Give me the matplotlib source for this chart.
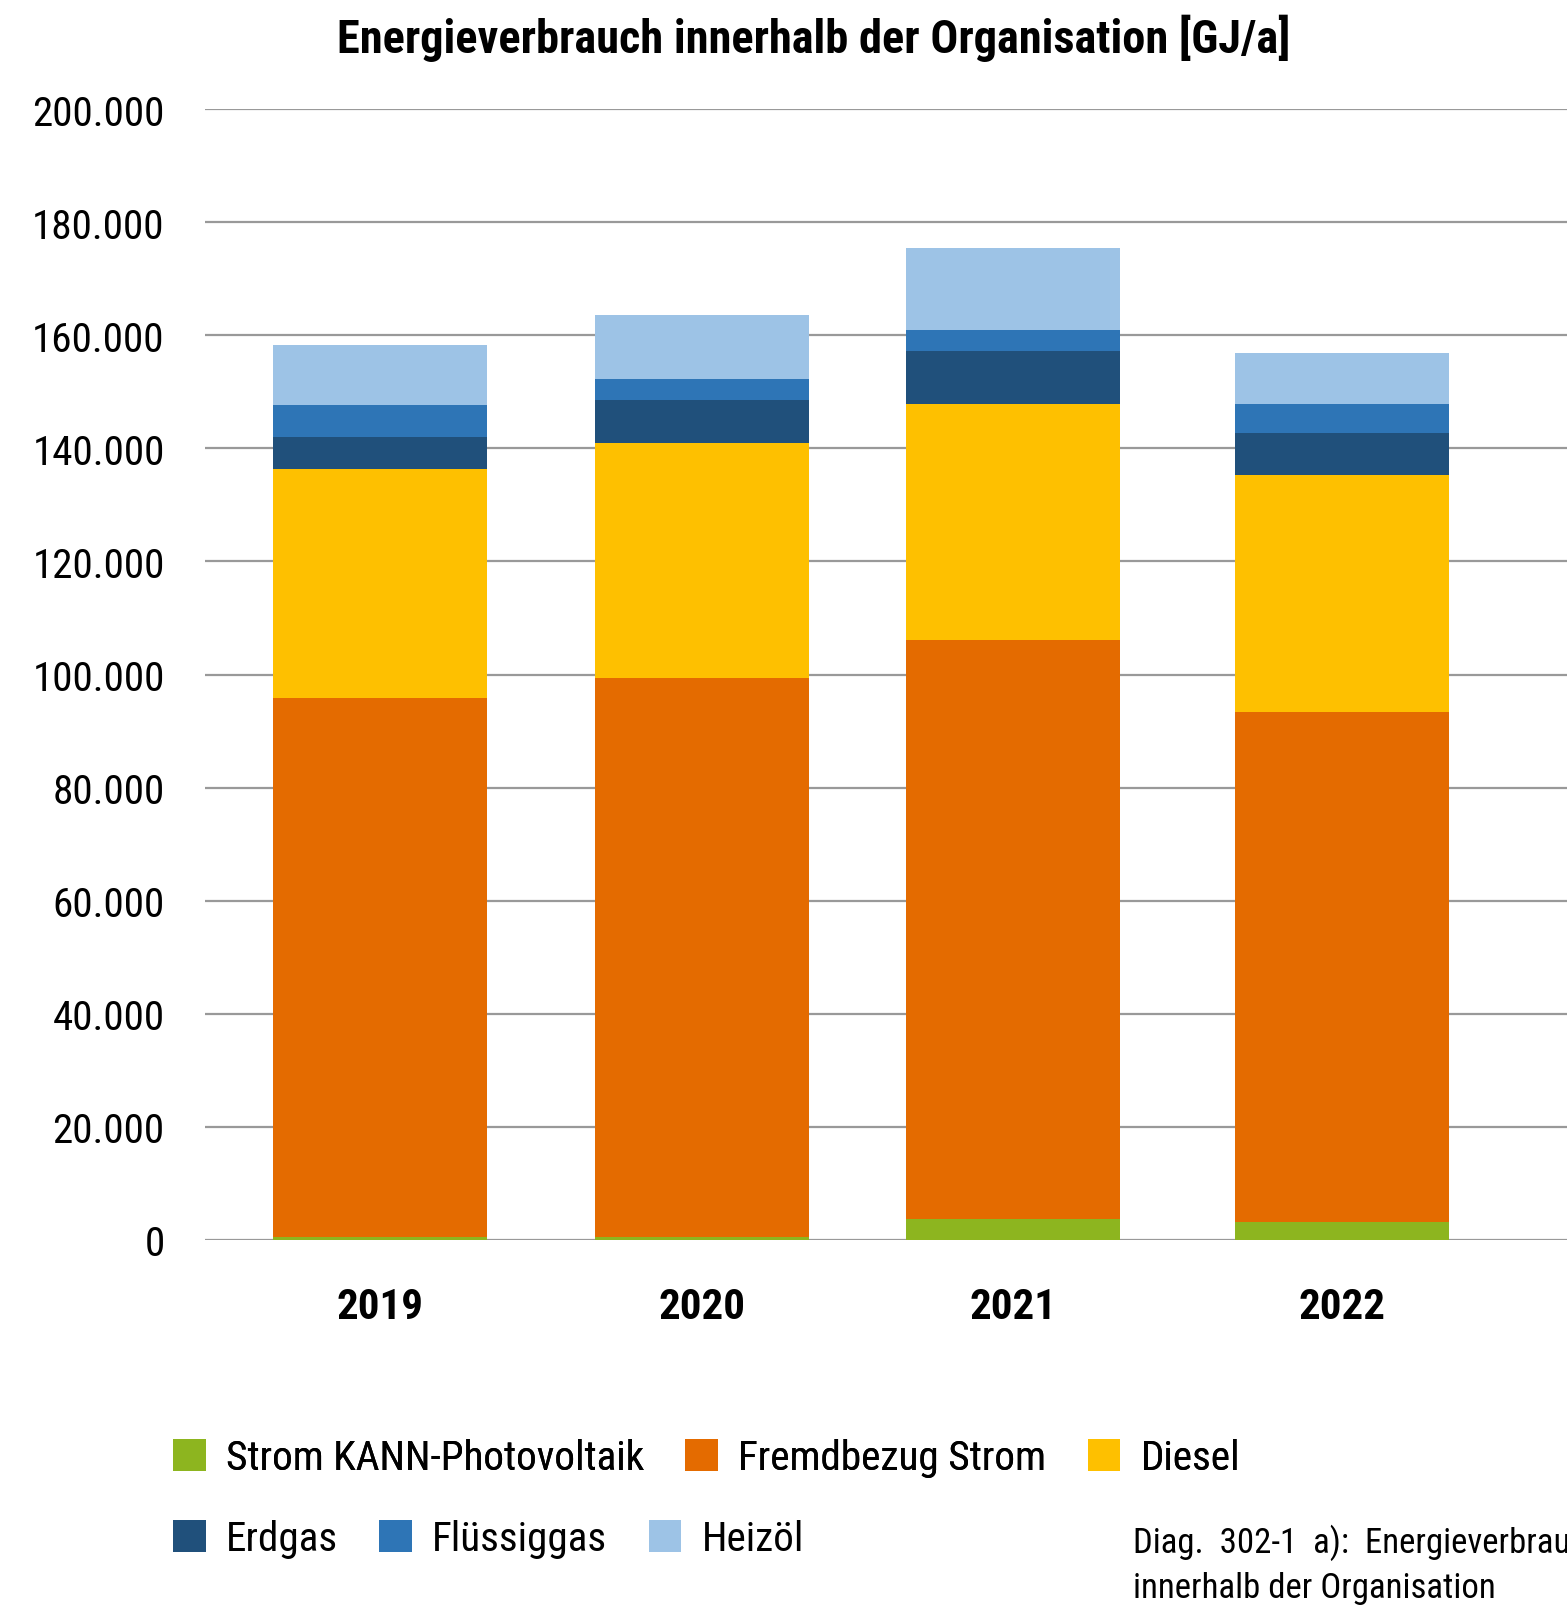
import numpy as np
import matplotlib
matplotlib.use("Agg")
import matplotlib.pyplot as plt
from matplotlib import font_manager
from matplotlib.ticker import FuncFormatter

# Energieverbrauch je Jahr und Energietraeger [GJ/a]
years = ["2019", "2020", "2021", "2022"]
pv_strom = [500, 500, 3700, 3200]
fremdbezug_strom = [95400, 98800, 102400, 90250]
diesel = [40400, 41600, 41800, 41800]
erdgas = [5700, 7600, 9350, 7450]
fluessiggas = [5650, 3700, 3700, 5150]
heizoel = [10650, 11350, 14550, 9050]

labels = ["Strom KANN-Photovoltaik", "Fremdbezug Strom", "Diesel",
          "Erdgas", "Flüssiggas", "Heizöl"]
colors = ["#8DB51F", "#E46B00", "#FEC000", "#20507B", "#2E75B6", "#9DC3E6"]
yticks = [0, 20000, 40000, 60000, 80000, 100000, 120000, 140000, 160000, 180000, 200000]

# pick a narrow sans if there is one
installed = {f.name for f in font_manager.fontManager.ttflist}
font = "DejaVu Sans"
for cand in ["Liberation Sans Narrow", "Roboto Condensed", "Open Sans Condensed"]:
    if cand in installed:
        font = cand
        break
plt.rcParams["font.family"] = [font, "DejaVu Sans"]

W, H = 1567, 1608
fig = plt.figure(figsize=(W / 100, H / 100), dpi=100)
ax = fig.add_axes([205 / W, (H - 1241) / H, (W - 205) / W, (1241 - 110) / H])

# bar slots (the third column sits a touch left in the layout)
x = np.array([0, 1.004, 1.974, 3.0])
series = [pv_strom, fremdbezug_strom, diesel, erdgas, fluessiggas, heizoel]
bottom = np.zeros(len(years))
bars = []
for vals, lab, col in zip(series, labels, colors):
    b = ax.bar(x, vals, width=0.667, bottom=bottom, color=col, label=lab, zorder=3)
    bars.append(b)
    bottom += np.array(vals)

ax.set_xlim(-0.5457, 3.701)
ax.set_ylim(0, 200000)
ax.set_yticks(yticks)
ax.yaxis.set_major_formatter(FuncFormatter(lambda v, p: f"{int(v):,}".replace(",", ".")))
ax.grid(axis="y", color="#999999", linewidth=1.6, zorder=0)
ax.set_axisbelow(True)
for s in ax.spines.values():
    s.set_visible(False)
ax.tick_params(axis="y", length=0, pad=29, labelsize=29.6)
ax.tick_params(axis="x", length=0, pad=33)
ax.set_xticks(x)
ax.set_xticklabels(years, fontsize=31, fontweight="bold")

fig.text(814 / W, 1 - 53 / H, "Energieverbrauch innerhalb der Organisation [GJ/a]",
         ha="center", va="baseline", fontsize=33.4, fontweight="bold")

# legend in two rows
leg_kw = dict(loc="center left", frameon=False, ncol=3, fontsize=29.6,
              borderpad=0, borderaxespad=0, handlelength=0.8, handleheight=0.8,
              handletextpad=0.49, columnspacing=1.0)
leg1 = fig.legend(handles=bars[:3], bbox_to_anchor=(173 / W, 1 - 1459 / H), **leg_kw)
fig.add_artist(leg1)
fig.legend(handles=bars[3:], bbox_to_anchor=(173 / W, 1 - 1540 / H), **leg_kw)

fig.text(1133 / W, 1 - 1553 / H, "Diag.  302-1  a):  Energieverbrauch",
         ha="left", va="baseline", fontsize=25)
fig.text(1133 / W, 1 - 1598 / H, "innerhalb der Organisation",
         ha="left", va="baseline", fontsize=25)

fig.savefig("out.png", dpi=100)
